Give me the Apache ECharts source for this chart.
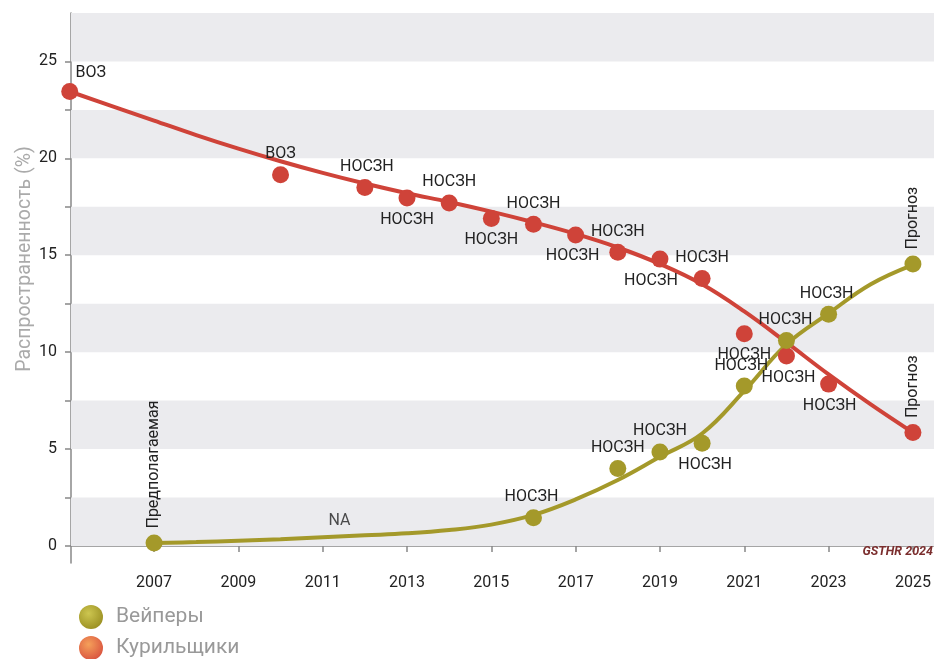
<!DOCTYPE html>
<html>
<head>
<meta charset="utf-8">
<script src="https://cdn.jsdelivr.net/npm/echarts@6/dist/echarts.min.js"></script>
<style>
html,body{margin:0;padding:0;background:#fff;}
#chart{width:934px;height:659px;}
</style>
</head>
<body>
<div id="chart"></div>
<script>
// ---- Data ----
const xTickYears = [2007, 2009, 2011, 2013, 2015, 2017, 2019, 2021, 2023, 2025];
const yTickValues = [0, 5, 10, 15, 20, 25];
const yMinorTicks = [0, 2.5, 5, 7.5, 10, 12.5, 15, 17.5, 20, 22.5, 25];
const bandRanges = [[0, 2.5], [5, 7.5], [10, 12.5], [15, 17.5], [20, 22.5], [25, 27.5]];

const vaperYears  = [2007, 2016, 2018, 2019, 2020, 2021, 2022, 2023, 2025];
const vaperValues = [0.15, 1.45, 4.0, 4.85, 5.3, 8.25, 10.6, 11.95, 14.55];
const vaperLabels = ['Предполагаемая', 'НОСЗН', 'НОСЗН', 'НОСЗН', 'НОСЗН', 'НОСЗН', 'НОСЗН', 'НОСЗН', 'Прогноз'];

const smokerYears  = [2005, 2010, 2012, 2013, 2014, 2015, 2016, 2017, 2018, 2019, 2020, 2021, 2022, 2023, 2025];
const smokerValues = [23.45, 19.15, 18.5, 17.95, 17.7, 16.9, 16.6, 16.05, 15.15, 14.8, 13.8, 10.95, 9.8, 8.35, 5.85];
const smokerLabels = ['ВОЗ', 'ВОЗ', 'НОСЗН', 'НОСЗН', 'НОСЗН', 'НОСЗН', 'НОСЗН', 'НОСЗН', 'НОСЗН', 'НОСЗН', 'НОСЗН', 'НОСЗН', 'НОСЗН', 'НОСЗН', 'Прогноз'];

// fitted trend curves
const vaperTrendYears  = [2007, 2008, 2009, 2010, 2011, 2012, 2013, 2014, 2015, 2016, 2017, 2018, 2019, 2020, 2021, 2022, 2023, 2024, 2025];
const vaperTrendValues = [0.15, 0.2, 0.27, 0.35, 0.45, 0.55, 0.65, 0.82, 1.1, 1.6, 2.4, 3.4, 4.6, 5.8, 8.0, 10.4, 12.0, 13.5, 14.5];
const smokerTrendYears  = [2005, 2006, 2007, 2008, 2009, 2010, 2011, 2012, 2013, 2014, 2015, 2016, 2017, 2018, 2019, 2020, 2021, 2022, 2023, 2024, 2025];
const smokerTrendValues = [23.45, 22.7, 21.95, 21.2, 20.5, 19.85, 19.25, 18.7, 18.2, 17.75, 17.25, 16.7, 16.1, 15.4, 14.55, 13.5, 12.1, 10.5, 8.85, 7.3, 5.85];

const naNote = { year: 2011.4, value: 0.48, text: 'NA' };

// ---- Styles ----
const RED = '#cf4339';
const OLIVE = '#a4992a';
const vaperLabelPos  = ['vert', 'top', 'top', 'top', 'bottom', 'top', 'top', 'top', 'vert'];
const vaperLabelDx   = [0, -2, 0, 0, 3, -3, -1, -2, 0];
const smokerLabelPos = ['topright', 'top', 'top', 'bottom', 'top', 'bottom', 'top', 'bottom', 'top', 'bottom', 'top', 'bottom', 'bottom', 'bottom', 'vert'];
const smokerLabelDx  = [0, 0, 2, 0, 0, 0, 0, -3, 0, -9, 0, 0, 2, 1, 0];

function labelFor(pos, text, dx) {
  const base = { show: true, formatter: text, color: '#222', fontSize: 16, fontFamily: 'Roboto' };
  if (pos === 'vert') return Object.assign(base, { position: 'top', rotate: 90, align: 'left', verticalAlign: 'middle', distance: 6, offset: [0, 0] });
  if (pos === 'topright') return Object.assign(base, { position: 'top', distance: 2, offset: [21, 0] });
  if (pos === 'bottom') return Object.assign(base, { position: 'bottom', distance: 5, offset: [dx, 0] });
  return Object.assign(base, { position: 'top', distance: 4, offset: [dx, 0] });
}

function pointData(years, values, labels, pos, dx) {
  return years.map((y, i) => ({ value: [y, values[i]], label: labelFor(pos[i], labels[i], dx[i]) }));
}

const chart = echarts.init(document.getElementById('chart'), null, { renderer: 'canvas' });

const option = {
  animation: false,
  backgroundColor: '#fff',
  grid: { left: 71, right: 0, top: 13, bottom: 96, containLabel: false },
  xAxis: {
    type: 'value',
    min: 2005.03,
    max: 2025.5,
    axisLine: { show: true, lineStyle: { color: '#888', width: 1.5 } },
    axisTick: { show: true, length: 6, lineStyle: { color: '#888', width: 1.5 }, customValues: xTickYears },
    axisLabel: { color: '#222', fontSize: 16, fontFamily: 'Roboto', margin: 12, customValues: xTickYears, formatter: v => String(v) },
    splitLine: { show: false }
  },
  yAxis: {
    type: 'value',
    min: -0.88,
    max: 27.5,
    axisLine: { show: true, lineStyle: { color: '#888', width: 1.5 } },
    axisTick: { show: true, length: 6, lineStyle: { color: '#888', width: 1.5 }, customValues: yMinorTicks },
    axisLabel: { color: '#222', fontSize: 16, fontFamily: 'Roboto', margin: 14, customValues: yTickValues },
    splitLine: { show: false }
  },
  legend: {
    orient: 'vertical',
    left: 79,
    top: 605,
    height: 80,
    padding: 0,
    icon: 'circle',
    itemWidth: 24,
    itemHeight: 24,
    itemGap: 7,
    textStyle: { color: '#999', fontSize: 21, fontFamily: 'Roboto', padding: [7, 0, 0, 8] },
    data: [
      { name: 'Вейперы', itemStyle: { color: { type: 'radial', x: 0.4, y: 0.35, r: 0.7, colorStops: [{ offset: 0, color: '#cdc650' }, { offset: 1, color: '#9a8f22' }] } } },
      { name: 'Курильщики', itemStyle: { color: { type: 'radial', x: 0.4, y: 0.35, r: 0.7, colorStops: [{ offset: 0, color: '#f5a05a' }, { offset: 1, color: '#d9533f' }] } } }
    ]
  },
  graphic: [
    { type: 'text', x: 25, y: 259, rotation: Math.PI / 2, style: { text: 'Распространенность (%)', fill: '#aaa', font: '19.5px Roboto', align: 'center', verticalAlign: 'middle' }, z: 100 },
    { type: 'text', right: 1, top: 545, style: { text: 'GSTHR 2024', fill: '#7b2e2e', font: 'italic bold 12.5px Roboto' }, z: 100 }
  ],
  series: [
    {
      name: 'bands', type: 'line', data: [], silent: true,
      markArea: {
        silent: true,
        itemStyle: { color: '#ebebee' },
        data: bandRanges.map(r => [{ yAxis: r[0] }, { yAxis: r[1] }])
      },
      z: 0
    },
    {
      name: 'Курильщики тренд', type: 'line', smooth: 0.4, showSymbol: false, symbol: 'none', clip: false,
      data: smokerTrendYears.map((y, i) => [y, smokerTrendValues[i]]),
      lineStyle: { color: RED, width: 4 }, z: 2, silent: true
    },
    {
      name: 'Вейперы тренд', type: 'line', smooth: 0.4, showSymbol: false, symbol: 'none', clip: false,
      data: vaperTrendYears.map((y, i) => [y, vaperTrendValues[i]]),
      lineStyle: { color: OLIVE, width: 4 }, z: 2, silent: true
    },
    {
      name: 'Курильщики', type: 'scatter', symbol: 'circle', symbolSize: 17, clip: false,
      itemStyle: { color: RED, opacity: 1 },
      data: pointData(smokerYears, smokerValues, smokerLabels, smokerLabelPos, smokerLabelDx),
      z: 3
    },
    {
      name: 'Вейперы', type: 'scatter', symbol: 'circle', symbolSize: 17, clip: false,
      itemStyle: { color: OLIVE, opacity: 1 },
      data: pointData(vaperYears, vaperValues, vaperLabels, vaperLabelPos, vaperLabelDx),
      z: 4
    },
    {
      name: 'note', type: 'scatter', symbolSize: 0, silent: true,
      data: [{ value: [naNote.year, naNote.value], label: { show: true, position: 'top', distance: 8, formatter: naNote.text, color: '#222', fontSize: 16, fontFamily: 'Roboto' } }],
      z: 5
    }
  ]
};
chart.setOption(option);
</script>
</body>
</html>
